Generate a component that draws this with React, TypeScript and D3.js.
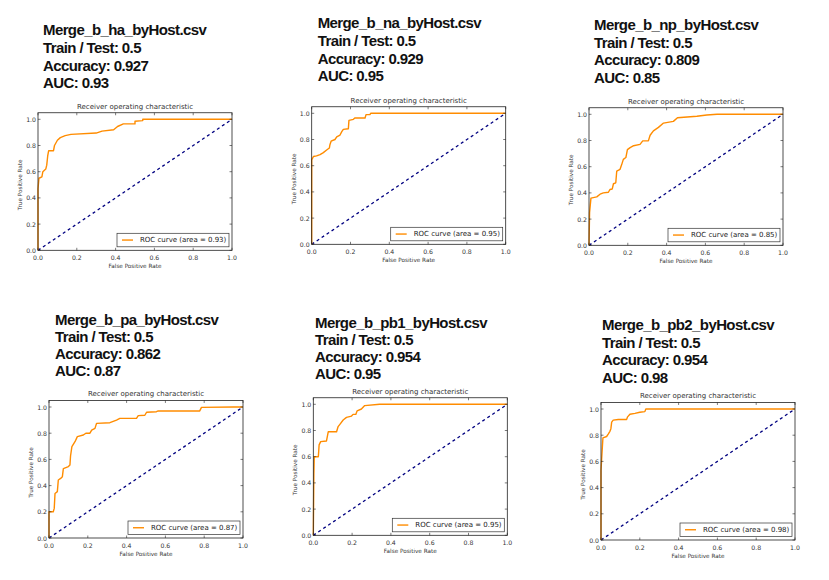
import React from "react";
import * as d3 from "d3";

type Pt = [number, number];

const fileNames = [
  "Merge_b_ha_byHost.csv",
  "Merge_b_na_byHost.csv",
  "Merge_b_np_byHost.csv",
  "Merge_b_pa_byHost.csv",
  "Merge_b_pb1_byHost.csv",
  "Merge_b_pb2_byHost.csv",
];
const trainTest = ["0.5", "0.5", "0.5", "0.5", "0.5", "0.5"];
const accuracy = ["0.927", "0.929", "0.809", "0.862", "0.954", "0.954"];
const aucHeader = ["0.93", "0.95", "0.85", "0.87", "0.95", "0.98"];
const aucLegend = ["0.93", "0.95", "0.85", "0.87", "0.95", "0.98"];

const rocHa: Pt[] = [
  [0, 0], [0, 0.47], [0.005, 0.55], [0.02, 0.56], [0.025, 0.6], [0.04, 0.62], [0.045, 0.65],
  [0.05, 0.72], [0.055, 0.76], [0.08, 0.76], [0.085, 0.8], [0.1, 0.84], [0.115, 0.86],
  [0.14, 0.875], [0.17, 0.885], [0.3, 0.895], [0.33, 0.91], [0.39, 0.92], [0.41, 0.945],
  [0.44, 0.965], [0.5, 0.965], [0.5, 0.985], [0.54, 0.99], [0.54, 1.0], [1, 1],
];
const rocNa: Pt[] = [
  [0, 0], [0, 0.645], [0.009, 0.67], [0.025, 0.675], [0.043, 0.685], [0.06, 0.7], [0.077, 0.72],
  [0.091, 0.735], [0.094, 0.76], [0.1, 0.787], [0.12, 0.8], [0.129, 0.82], [0.146, 0.834],
  [0.155, 0.86], [0.163, 0.877], [0.189, 0.882], [0.192, 0.946], [0.215, 0.954], [0.222, 0.964],
  [0.275, 0.964], [0.28, 0.99], [0.3, 0.99], [0.304, 1.0], [1, 1],
];
const rocNp: Pt[] = [
  [0, 0], [0.003, 0.25], [0.01, 0.36], [0.04, 0.37], [0.057, 0.39], [0.074, 0.4], [0.1, 0.405],
  [0.108, 0.426], [0.12, 0.43], [0.126, 0.47], [0.138, 0.477], [0.143, 0.567], [0.16, 0.58],
  [0.169, 0.618], [0.177, 0.656], [0.19, 0.67], [0.198, 0.73], [0.212, 0.746], [0.23, 0.76],
  [0.263, 0.77], [0.277, 0.797], [0.306, 0.797], [0.315, 0.84], [0.332, 0.874], [0.358, 0.9],
  [0.384, 0.933], [0.435, 0.946], [0.456, 0.974], [0.556, 0.985], [0.607, 0.995], [0.66, 1.0], [1, 1],
];
const rocPa: Pt[] = [
  [0, 0], [0, 0.2], [0.022, 0.2], [0.027, 0.226], [0.031, 0.34], [0.043, 0.354], [0.048, 0.443],
  [0.06, 0.455], [0.069, 0.468], [0.074, 0.53], [0.1, 0.545], [0.108, 0.557], [0.111, 0.626],
  [0.118, 0.697], [0.134, 0.735], [0.146, 0.774], [0.177, 0.786], [0.19, 0.8], [0.211, 0.8],
  [0.22, 0.824], [0.237, 0.837], [0.245, 0.875], [0.314, 0.88], [0.348, 0.9], [0.365, 0.913],
  [0.451, 0.913], [0.46, 0.934], [0.494, 0.937], [0.503, 0.96], [0.554, 0.964], [0.563, 0.97],
  [0.777, 0.97], [0.786, 0.997], [0.95, 1.0], [1, 1],
];
const rocPb1: Pt[] = [
  [0, 0], [0.003, 0.47], [0.005, 0.6], [0.026, 0.6], [0.03, 0.69], [0.038, 0.715], [0.068, 0.72],
  [0.077, 0.79], [0.12, 0.79], [0.128, 0.83], [0.137, 0.847], [0.154, 0.88], [0.171, 0.9],
  [0.197, 0.91], [0.205, 0.923], [0.219, 0.923], [0.226, 0.95], [0.248, 0.964], [0.265, 0.99],
  [0.342, 1.0], [1, 1],
];
const rocPb2: Pt[] = [
  [0, 0], [0, 0.53], [0.005, 0.66], [0.01, 0.78], [0.029, 0.79], [0.038, 0.81], [0.046, 0.83],
  [0.051, 0.85], [0.055, 0.9], [0.063, 0.915], [0.089, 0.92], [0.132, 0.92], [0.137, 0.94],
  [0.149, 0.96], [0.175, 0.967], [0.2, 0.975], [0.226, 0.98], [0.231, 1.0], [1, 1],
];
const rocSeries = [rocHa, rocNa, rocNp, rocPa, rocPb1, rocPb2];
const diagonal: Pt[] = [[0, 0], [1, 1]];
const ticks = [0, 0.2, 0.4, 0.6, 0.8, 1.0];

// layout: plot left, y-of-zero baseline, header x, header first baseline, header step
const layout = [
  { left: 38, base: 250.3, hx: 43, hy: 35, hs: 17.8 },
  { left: 311.7, base: 244.3, hx: 317.7, hy: 28.3, hs: 17.6 },
  { left: 589, base: 245.3, hx: 594, hy: 30, hs: 17.5 },
  { left: 49, base: 538, hx: 55, hy: 325, hs: 17.1 },
  { left: 313.3, base: 535.3, hx: 315, hy: 327.7, hs: 17.1 },
  { left: 601, base: 540, hx: 602, hy: 330, hs: 17.7 },
];

const W = 194;
const H1 = 131; // pixels per 1.0 on y
const ORANGE = "#FF8C00";
const NAVY = "#000080";
const PLOT_FONT = "DejaVu Sans, sans-serif";

function Panel({ i }: { i: number }) {
  const { left, base, hx, hy, hs } = layout[i];
  const x = d3.scaleLinear().domain([0, 1]).range([left, left + W]);
  const y = d3.scaleLinear().domain([0, 1]).range([base, base - H1]);
  const top = y(1.05);
  const line = d3.line<Pt>().x((d) => x(d[0])).y((d) => y(d[1]));
  const headerLines = [
    fileNames[i],
    `Train / Test: ${trainTest[i]}`,
    `Accuracy: ${accuracy[i]}`,
    `AUC: ${aucHeader[i]}`,
  ];
  const lgL = left + 79;
  const lgR = left + 191;
  const lgT = base - 17;
  const lgB = base - 3.5;
  const lgC = (lgT + lgB) / 2;
  return (
    <g>
      {headerLines.map((t, k) => (
        <text
          key={k}
          x={hx}
          y={hy + k * hs}
          fontFamily="Liberation Sans, Arial, sans-serif"
          fontWeight="bold"
          fontSize={15}
          letterSpacing={-0.6}
          fill="#111"
        >
          {t}
        </text>
      ))}
      <text
        x={left + W / 2}
        y={top - 6}
        textAnchor="middle"
        fontFamily={PLOT_FONT}
        fontSize={7}
        fill="#333"
        dominantBaseline="central"
      >
        Receiver operating characteristic
      </text>
      <path d={line(diagonal) || ""} fill="none" stroke={NAVY} strokeWidth={1.3} strokeDasharray="3,3" />
      <path d={line(rocSeries[i]) || ""} fill="none" stroke={ORANGE} strokeWidth={1.4} strokeLinejoin="round" />
      <rect x={left} y={top} width={W} height={base - top} fill="none" stroke="#222" strokeWidth={0.8} />
      {ticks.map((t) => (
        <g key={"x" + t}>
          <line x1={x(t)} x2={x(t)} y1={base} y2={base - 2.5} stroke="#222" strokeWidth={0.6} />
          <line x1={x(t)} x2={x(t)} y1={top} y2={top + 2.5} stroke="#222" strokeWidth={0.6} />
          <text
            x={x(t)}
            y={base + 7}
            textAnchor="middle"
            dominantBaseline="central"
            fontFamily={PLOT_FONT}
            fontSize={6.2}
            fill="#333"
          >
            {t.toFixed(1)}
          </text>
        </g>
      ))}
      {ticks.map((t) => (
        <g key={"y" + t}>
          <line x1={left} x2={left + 2.5} y1={y(t)} y2={y(t)} stroke="#222" strokeWidth={0.6} />
          <line x1={left + W} x2={left + W - 2.5} y1={y(t)} y2={y(t)} stroke="#222" strokeWidth={0.6} />
          <text
            x={left - 2}
            y={y(t)}
            textAnchor="end"
            dominantBaseline="central"
            fontFamily={PLOT_FONT}
            fontSize={6.2}
            fill="#333"
          >
            {t.toFixed(1)}
          </text>
        </g>
      ))}
      <text
        x={left + W / 2}
        y={base + 15.5}
        textAnchor="middle"
        dominantBaseline="central"
        fontFamily={PLOT_FONT}
        fontSize={5.7}
        fill="#333"
      >
        False Positive Rate
      </text>
      <text
        transform={`translate(${left - 18},${y(0.5)}) rotate(-90)`}
        textAnchor="middle"
        dominantBaseline="central"
        fontFamily={PLOT_FONT}
        fontSize={5.7}
        fill="#333"
      >
        True Positive Rate
      </text>
      <rect x={lgL} y={lgT} width={lgR - lgL} height={lgB - lgT} fill="#fff" stroke="#333" strokeWidth={0.7} />
      <line x1={left + 84} x2={left + 95} y1={lgC} y2={lgC} stroke={ORANGE} strokeWidth={1.4} />
      <text
        x={left + 102}
        y={lgC}
        dominantBaseline="central"
        fontFamily={PLOT_FONT}
        fontSize={7}
        fill="#222"
      >
        {`ROC curve (area = ${aucLegend[i]})`}
      </text>
    </g>
  );
}

export default function App() {
  return (
    <svg
      width={829}
      height={580}
      style={{ position: "absolute", left: 0, top: 0, background: "#fff" }}
    >
      <rect width={829} height={580} fill="#fff" />
      {fileNames.map((_, i) => (
        <Panel key={i} i={i} />
      ))}
    </svg>
  );
}
